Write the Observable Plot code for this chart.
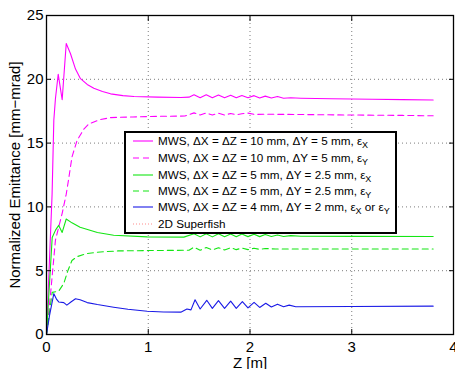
<!DOCTYPE html>
<html><head><meta charset="utf-8">
<script src="https://cdn.jsdelivr.net/npm/d3@7"></script>
<script src="https://cdn.jsdelivr.net/npm/@observablehq/plot@0.6"></script>
<style>
body{margin:0;background:#fff;}
#wrap{position:relative;width:455px;height:369px;font-family:"Liberation Sans",Arial,sans-serif;overflow:hidden;}
#legend{position:absolute;left:124px;top:131px;width:273px;height:103px;border:2px solid #000;background:#fff;box-sizing:border-box;}
.row{position:absolute;left:0;height:16px;line-height:16px;font-size:11.7px;color:#000;white-space:nowrap;}
.row svg{position:absolute;left:6px;top:0;}
.row span{position:absolute;left:32px;top:0;}
.row sub{font-size:9px;vertical-align:-3px;line-height:0;}
</style>
</head><body>
<div id="wrap"><div id="chart"></div><div id="legend"></div></div>
<script>
const xTicks = [0, 1, 2, 3, 4];
const yTicks = [0, 5, 10, 15, 20, 25];

const zM1 = [0, 0.055, 0.072, 0.088, 0.115, 0.154, 0.194, 0.236, 0.285, 0.334, 0.4, 0.465, 0.55, 0.63, 0.75, 0.86, 1.09, 1.32, 1.4, 1.45, 1.51, 1.57, 1.63, 1.69, 1.75, 1.81, 1.865, 1.92, 1.98, 2.04, 2.095, 2.15, 2.21, 2.27, 2.33, 2.4, 2.5, 2.8, 3.2, 3.5, 3.8];
const yM1 = [0, 11, 16.8, 18.5, 20.4, 18.4, 22.8, 22.0, 20.8, 20.05, 19.6, 19.3, 19.05, 18.86, 18.72, 18.65, 18.6, 18.57, 18.6, 18.78, 18.55, 18.78, 18.55, 18.77, 18.55, 18.75, 18.55, 18.73, 18.55, 18.72, 18.53, 18.68, 18.53, 18.65, 18.52, 18.55, 18.52, 18.48, 18.44, 18.41, 18.38];

const zM2 = [0, 0.04, 0.088, 0.154, 0.194, 0.22, 0.25, 0.3, 0.367, 0.416, 0.53, 0.63, 0.85, 1.09, 1.36, 1.45, 1.51, 1.57, 1.63, 1.69, 1.75, 1.81, 1.865, 1.92, 1.98, 2.04, 2.15, 2.5, 3.0, 3.5, 3.8];
const yM2 = [0, 3.2, 7.4, 9.5, 11.0, 12.3, 13.9, 15.2, 16.1, 16.5, 16.85, 17.0, 17.05, 17.1, 17.12, 17.37, 17.2, 17.36, 17.2, 17.34, 17.2, 17.32, 17.22, 17.3, 17.35, 17.25, 17.26, 17.24, 17.2, 17.17, 17.14];

const zG1 = [0, 0.056, 0.09, 0.12, 0.154, 0.194, 0.25, 0.33, 0.5, 0.66, 0.99, 1.35, 1.45, 1.51, 1.57, 1.63, 1.69, 1.75, 1.81, 1.865, 1.92, 1.98, 2.04, 2.095, 2.15, 2.21, 2.27, 2.33, 2.4, 2.5, 3.0, 3.8];
const yG1 = [0, 7.6, 8.2, 8.55, 8.0, 9.05, 8.75, 8.4, 8.0, 7.78, 7.65, 7.63, 7.9, 7.65, 7.9, 7.65, 7.9, 7.66, 7.88, 7.66, 7.87, 7.67, 7.85, 7.67, 7.83, 7.68, 7.8, 7.68, 7.75, 7.7, 7.69, 7.68];

const zG2 = [0, 0.056, 0.12, 0.17, 0.21, 0.25, 0.3, 0.4, 0.5, 0.7, 1.0, 1.4, 1.45, 1.51, 1.57, 1.63, 1.69, 1.75, 1.81, 1.865, 1.92, 1.98, 2.04, 2.095, 2.15, 2.25, 2.5, 3.0, 3.8];
const yG2 = [0, 3.3, 3.4, 4.0, 5.0, 5.8, 6.1, 6.35, 6.45, 6.55, 6.58, 6.6, 6.85, 6.6, 6.82, 6.62, 6.8, 6.63, 6.8, 6.65, 6.78, 6.65, 6.76, 6.67, 6.74, 6.7, 6.7, 6.7, 6.7];

const zB = [0, 0.03, 0.072, 0.1, 0.12, 0.17, 0.2, 0.24, 0.285, 0.33, 0.4, 0.5, 0.66, 0.8, 0.99, 1.15, 1.32, 1.38, 1.42, 1.46, 1.51, 1.575, 1.63, 1.69, 1.75, 1.81, 1.865, 1.925, 1.98, 2.04, 2.095, 2.155, 2.21, 2.27, 2.33, 2.385, 2.45, 3.0, 3.8];
const yB = [0, 1.5, 3.2, 2.75, 2.55, 2.5, 2.3, 2.55, 2.8, 2.72, 2.5, 2.35, 2.14, 1.98, 1.82, 1.76, 1.75, 2.0, 1.93, 2.72, 2.0, 2.68, 2.05, 2.66, 2.05, 2.62, 2.05, 2.58, 2.08, 2.52, 2.12, 2.45, 2.15, 2.38, 2.17, 2.3, 2.18, 2.2, 2.22];

const legendHTML = [
  "MWS, ΔX = ΔZ = 10 mm, ΔY = 5 mm, ε<sub>X</sub>",
  "MWS, ΔX = ΔZ = 10 mm, ΔY = 5 mm, ε<sub>Y</sub>",
  "MWS, ΔX = ΔZ = 5 mm, ΔY = 2.5 mm, ε<sub>X</sub>",
  "MWS, ΔX = ΔZ = 5 mm, ΔY = 2.5 mm, ε<sub>Y</sub>",
  "MWS, ΔX = ΔZ = 4 mm, ΔY = 2 mm, ε<sub>X</sub> or ε<sub>Y</sub>",
  "2D Superfish"
];
const MAG = "#ff00ff", GRN = "#14e614", BLU = "#1a1ae6", SF = "#ff8c8c";
const styles = [
  {stroke: MAG, dash: null},
  {stroke: MAG, dash: "6,4"},
  {stroke: GRN, dash: null},
  {stroke: GRN, dash: "6,4"},
  {stroke: BLU, dash: null},
  {stroke: SF, dash: "1,2"}
];

const table = (zs, ys) => zs.map((z, i) => ({z, v: ys[i]}));
const sets = [table(zM1, yM1), table(zM2, yM2), table(zG1, yG1), table(zG2, yG2), table(zB, yB)];

const font = "Liberation Sans, Arial, sans-serif";
const chart = Plot.plot({
  width: 455, height: 369,
  marginLeft: 46, marginRight: 2, marginTop: 15, marginBottom: 35,
  style: {fontFamily: font, fontSize: "15px", background: "#fff", color: "#000"},
  x: {domain: [0, 4]},
  y: {domain: [0, 25]},
  marks: [
    Plot.gridX([1, 2, 3], {stroke: "#444", strokeOpacity: 0.7, strokeDasharray: "1,3"}),
    Plot.gridY([5, 10, 15, 20], {stroke: "#444", strokeOpacity: 0.7, strokeDasharray: "1,3"}),
    ...sets.map((d, i) => Plot.line(d, {x: "z", y: "v", stroke: styles[i].stroke, strokeWidth: 1.1, strokeDasharray: styles[i].dash})),
    Plot.frame({stroke: "#000", strokeWidth: 1.3}),
    Plot.axisX(xTicks, {anchor: "bottom", tickSize: -5, tickPadding: 12, fontSize: 15, label: "Z [m]", labelAnchor: "center", labelArrow: "none", labelOffset: 33}),
    Plot.axisX(xTicks, {anchor: "top", tickSize: -5, tickFormat: () => "", label: null}),
    Plot.axisY(yTicks, {anchor: "left", tickSize: -5, tickPadding: 8, fontSize: 15, label: "Normalized Emittance [mm−mrad]", labelAnchor: "center", labelArrow: "none", labelOffset: 37}),
    Plot.axisY(yTicks, {anchor: "right", tickSize: -5, tickFormat: () => "", label: null})
  ]
});
document.getElementById("chart").appendChild(chart);

const leg = document.getElementById("legend");
const rowTops = [8, 25, 42, 58, 74, 91];
legendHTML.forEach((h, i) => {
  const r = document.createElement("div");
  r.className = "row";
  r.style.top = (rowTops[i] - 8) + "px";
  const dash = styles[i].dash ? `stroke-dasharray="${styles[i].dash}"` : "";
  r.innerHTML = `<svg width="22" height="16"><line x1="1" x2="21" y1="8" y2="8" stroke="${styles[i].stroke}" stroke-width="1.1" ${dash}/></svg><span>${h}</span>`;
  leg.appendChild(r);
});
</script>
</body></html>
